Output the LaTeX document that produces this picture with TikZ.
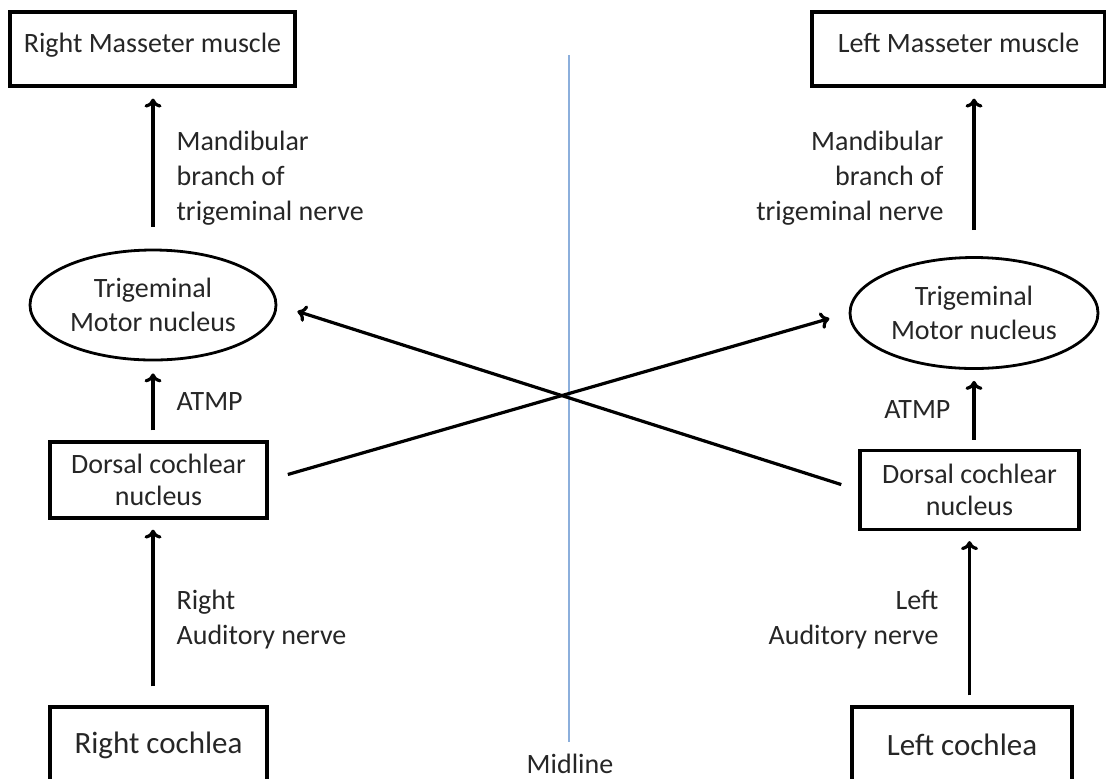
\documentclass[tikz,border=0pt]{standalone}
\usepackage{fontspec}
\setmainfont{Carlito}
\usepackage{tikz}
\usetikzlibrary{arrows.meta,shapes,calc,positioning}
\definecolor{inkgray}{RGB}{38,38,38}
\definecolor{midblue}{RGB}{140,175,220}

\begin{document}
\begin{tikzpicture}[x=0.5pt,y=-0.5pt,line width=1.6pt,->,>={To[length=4.5pt,width=8.5pt]}]
    \tikzstyle{box}=[rectangle, draw, -, inner sep=0pt, text=inkgray,
      font=\fontsize{14}{16}\selectfont, align=center]
    \tikzstyle{nucleus}=[ellipse, draw, -, line width=1.4pt, inner sep=0pt, text=inkgray,
      font=\fontsize{14}{17}\selectfont, align=center]
    \tikzstyle{lbl}=[inner sep=0pt, text=inkgray,
      font=\fontsize{14}{17.5}\selectfont]

    \useasboundingbox (0,0) rectangle (1106,778);
    \clip (0,0) rectangle (1106,778);

    % midline
    \coordinate (mtop) at (569,55);
    \coordinate (mbot) at (569,742);
    \draw[-, line width=0.6pt, midblue] (mtop) -- (mbot);
    \node[lbl] (mid) at (570,764) {Midline};

    % right side of the body
    \node[box, minimum width=142.5pt, minimum height=37pt] (rmass) at (152.5,49) {\raisebox{6pt}{Right Masseter muscle}};
    \node[nucleus, minimum width=123pt, minimum height=55pt] (rtrig) at (153,305) {Trigeminal\\Motor nucleus};
    \node[box, minimum width=108.5pt, minimum height=38pt] (rdcn) at (158.5,480) {Dorsal cochlear\\nucleus};
    \node[box, minimum width=108.5pt, minimum height=38pt,
      font=\fontsize{15.5}{18}\selectfont] (rcoch) at (158.5,745) {Right cochlea};

    % left side of the body
    \node[box, minimum width=146.5pt, minimum height=37pt] (lmass) at (958.5,49) {\raisebox{6pt}{Left Masseter muscle}};
    \node[nucleus, minimum width=124pt, minimum height=55.5pt] (ltrig) at (974,313) {Trigeminal\\Motor nucleus};
    \node[box, minimum width=109.5pt, minimum height=39.5pt] (ldcn) at (969.5,490) {Dorsal cochlear\\nucleus};
    \node[box, minimum width=110pt, minimum height=38pt,
      font=\fontsize{15.5}{18}\selectfont] (lcoch) at (962,745) {Left cochlea};

    % vertical pathways
    \draw[shorten <=11pt, shorten >=5.5pt] (rtrig.north) -- (rtrig.north |- rmass.south);
    \draw[shorten <=5pt, shorten >=6pt] (rtrig.south |- rdcn.north) -- (rtrig.south);
    \draw[shorten <=9.5pt, shorten >=5pt] (rtrig.south |- rcoch.north) -- (rtrig.south |- rdcn.south);
    \draw[shorten <=13pt, shorten >=5.5pt] (ltrig.north) -- (ltrig.north |- lmass.south);
    \draw[shorten <=4.5pt, shorten >=5.5pt] (ltrig.south |- ldcn.north) -- (ltrig.south);
    \draw[shorten <=5pt, shorten >=5pt] (ldcn.south |- lcoch.north) -- (ldcn.south);

    % crossed pathways
    \draw[shorten <=10pt, shorten >=10pt] (rdcn.east) -- (ltrig.west);
    \draw[shorten <=9pt, shorten >=10.5pt] (ldcn.west) -- (rtrig.east);

    % labels
    \node[lbl, anchor=west, align=left] (rmand) at (175,178) {Mandibular\\branch of\\trigeminal nerve};
    \node[lbl, anchor=east, align=right] (lmand) at (945,178) {Mandibular\\branch of\\trigeminal nerve};
    \node[lbl, anchor=west] (ratmp) at (175,402) {ATMP};
    \node[lbl, anchor=east] (latmp) at (952,410) {ATMP};
    \node[lbl, anchor=west, align=left] (raud) at (175,620) {Right\\Auditory nerve};
    \node[lbl, anchor=east, align=right] (laud) at (940,620) {Left\\Auditory nerve};
\end{tikzpicture}
\end{document}
